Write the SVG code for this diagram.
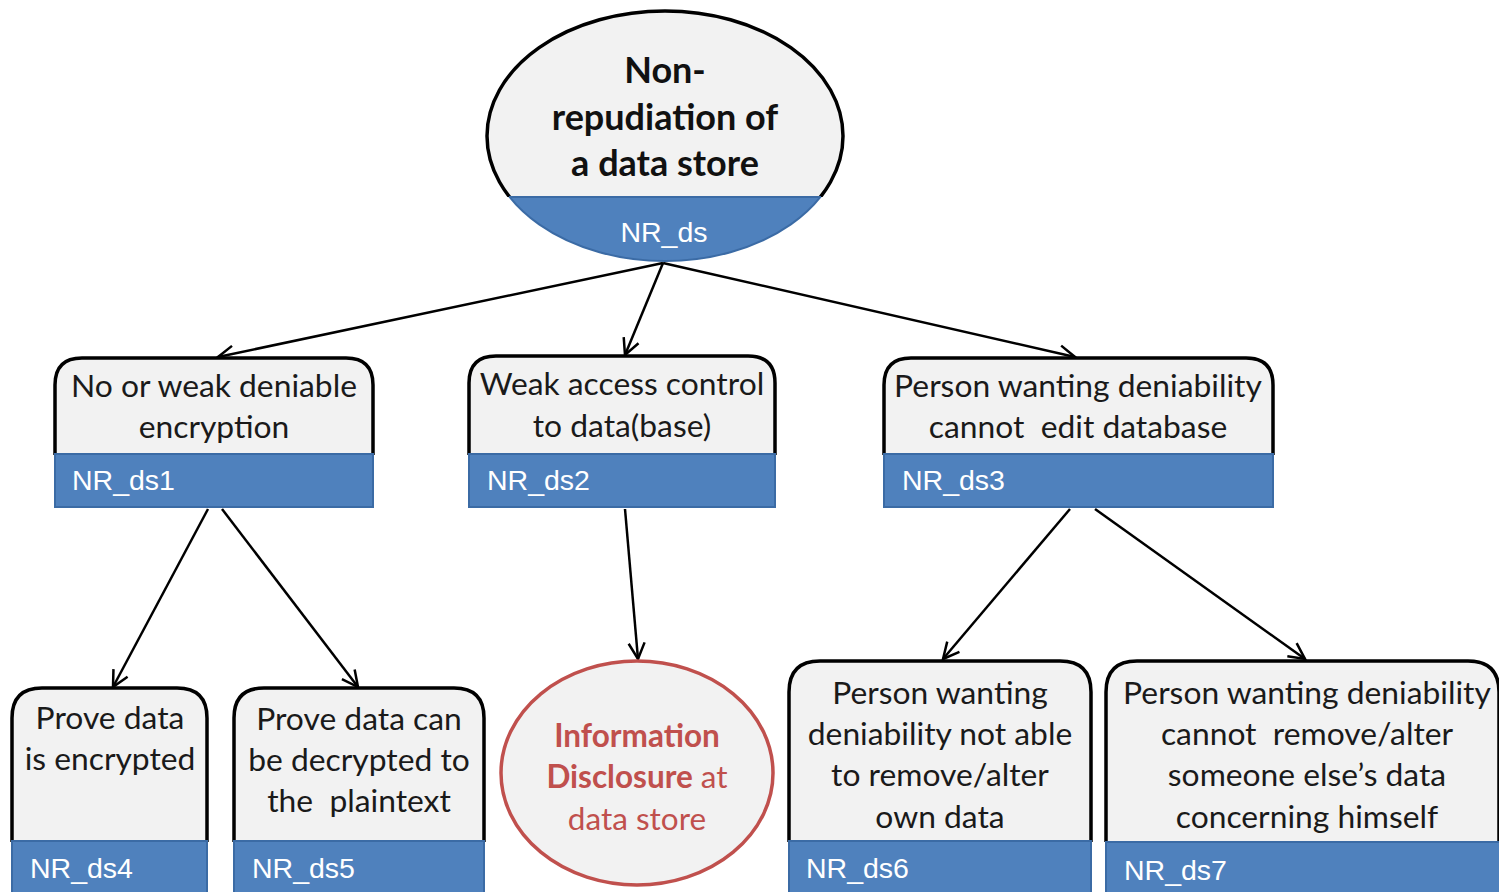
<svg xmlns="http://www.w3.org/2000/svg" width="1499" height="892" viewBox="0 0 1499 892">
<defs>
<style>
.box{fill:#f2f2f2;stroke:#000;stroke-width:3.5}
.band{fill:#4f81bd;stroke:#3b6ba5;stroke-width:2}
.t{font-family:Lato,"Open Sans",sans-serif;font-size:31.8px;fill:#1a1a1a;text-anchor:middle;white-space:pre}
.tb{font-family:Lato,"Open Sans",sans-serif;font-size:36px;font-weight:bold;fill:#111;text-anchor:middle}
.id{font-family:"Liberation Sans",Arial,sans-serif;font-size:28.5px;fill:#fff}
.red{font-family:Lato,"Open Sans",sans-serif;font-size:31.5px;fill:#c0504d;text-anchor:middle}
.conn{stroke:#000;stroke-width:2.5;fill:none}
</style>
<marker id="arr" viewBox="0 0 22 22" refX="20" refY="11" markerWidth="22" markerHeight="22" markerUnits="userSpaceOnUse" orient="auto">
<path d="M4,3 L20,11 L4,19" fill="none" stroke="#000" stroke-width="2.5"/>
</marker>
<clipPath id="topclip"><rect x="480" y="0" width="380" height="197"/></clipPath>
<clipPath id="botclip"><rect x="480" y="197" width="380" height="80"/></clipPath>
</defs>
<rect width="1499" height="892" fill="#fff"/>

<g id="connectors">
<line class="conn" x1="663" y1="263" x2="218" y2="357" marker-end="url(#arr)"/>
<line class="conn" x1="663" y1="263" x2="625" y2="355" marker-end="url(#arr)"/>
<line class="conn" x1="663" y1="263" x2="1075" y2="357" marker-end="url(#arr)"/>
<line class="conn" x1="208" y1="509" x2="113" y2="687" marker-end="url(#arr)"/>
<line class="conn" x1="222" y1="509" x2="358" y2="687" marker-end="url(#arr)"/>
<line class="conn" x1="625" y1="509" x2="638" y2="659" marker-end="url(#arr)"/>
<line class="conn" x1="1070" y1="509" x2="943" y2="659" marker-end="url(#arr)"/>
<line class="conn" x1="1095" y1="509" x2="1305" y2="659" marker-end="url(#arr)"/>
</g>

<g id="NR_ds">
<ellipse cx="665" cy="136" rx="178" ry="125" fill="#f2f2f2" stroke="#000" stroke-width="3.5" clip-path="url(#topclip)"/>
<ellipse cx="665" cy="136" rx="178" ry="125" fill="#4f81bd" stroke="#3b6ba5" stroke-width="2" clip-path="url(#botclip)"/>
<line x1="509" y1="197" x2="821" y2="197" stroke="#3b6ba5" stroke-width="2"/>
<text class="tb" x="665" y="83">Non-</text>
<text class="tb" x="665" y="130">repudiation of</text>
<text class="tb" x="665" y="176">a data store</text>
<text class="id" x="664" y="242" text-anchor="middle">NR_ds</text>
</g>

<g id="NR_ds1">
<path class="box" d="M55,455 L55,385 Q55,358 82,358 L346,358 Q373,358 373,385 L373,455"/>
<rect class="band" x="55" y="454" width="318" height="53"/>
<text class="t" x="214" y="397">No or weak deniable</text>
<text class="t" x="214" y="438">encryption</text>
<text class="id" x="72" y="490">NR_ds1</text>
</g>

<g id="NR_ds2">
<path class="box" d="M469,455 L469,383 Q469,356 496,356 L748,356 Q775,356 775,383 L775,455"/>
<rect class="band" x="469" y="454" width="306" height="53"/>
<text class="t" x="622" y="395">Weak access control</text>
<text class="t" x="622" y="437">to data(base)</text>
<text class="id" x="487" y="490">NR_ds2</text>
</g>

<g id="NR_ds3">
<path class="box" d="M884,455 L884,385 Q884,358 911,358 L1246,358 Q1273,358 1273,385 L1273,455"/>
<rect class="band" x="884" y="454" width="389" height="53"/>
<text class="t" x="1078" y="397">Person wanting deniability</text>
<text class="t" x="1078" y="438">cannot  edit database</text>
<text class="id" x="902" y="490">NR_ds3</text>
</g>

<g id="NR_ds4">
<path class="box" d="M12,842 L12,718 Q12,688 42,688 L177,688 Q207,688 207,718 L207,842"/>
<rect class="band" x="12" y="841" width="195" height="60"/>
<text class="t" x="110" y="729">Prove data</text>
<text class="t" x="110" y="770">is encrypted</text>
<text class="id" x="30" y="878">NR_ds4</text>
</g>

<g id="NR_ds5">
<path class="box" d="M234,842 L234,718 Q234,688 264,688 L454,688 Q484,688 484,718 L484,842"/>
<rect class="band" x="234" y="841" width="250" height="60"/>
<text class="t" x="359" y="730">Prove data can</text>
<text class="t" x="359" y="771">be decrypted to</text>
<text class="t" x="359" y="812">the  plaintext</text>
<text class="id" x="252" y="878">NR_ds5</text>
</g>

<g id="info_disclosure">
<ellipse cx="637" cy="773" rx="136" ry="112" fill="#f2f2f2" stroke="#c0504d" stroke-width="3.5"/>
<text class="red" x="637" y="747" font-weight="bold">Information</text>
<text class="red" x="637" y="788"><tspan font-weight="bold">Disclosure</tspan> at</text>
<text class="red" x="637" y="830">data store</text>
</g>

<g id="NR_ds6">
<path class="box" d="M789,842 L789,692 Q789,661 820,661 L1060,661 Q1091,661 1091,692 L1091,842"/>
<rect class="band" x="789" y="841" width="302" height="60"/>
<text class="t" x="940" y="704">Person wanting</text>
<text class="t" x="940" y="745">deniability not able</text>
<text class="t" x="940" y="786">to remove/alter</text>
<text class="t" x="940" y="828">own data</text>
<text class="id" x="806" y="878">NR_ds6</text>
</g>

<g id="NR_ds7">
<path class="box" d="M1106,842 L1106,692 Q1106,661 1137,661 L1468,661 Q1499,661 1499,692 L1499,842"/>
<rect class="band" x="1106" y="842" width="400" height="60"/>
<text class="t" x="1307" y="704">Person wanting deniability</text>
<text class="t" x="1307" y="745">cannot  remove/alter</text>
<text class="t" x="1307" y="786">someone else’s data</text>
<text class="t" x="1307" y="828">concerning himself</text>
<text class="id" x="1124" y="880">NR_ds7</text>
</g>
</svg>
